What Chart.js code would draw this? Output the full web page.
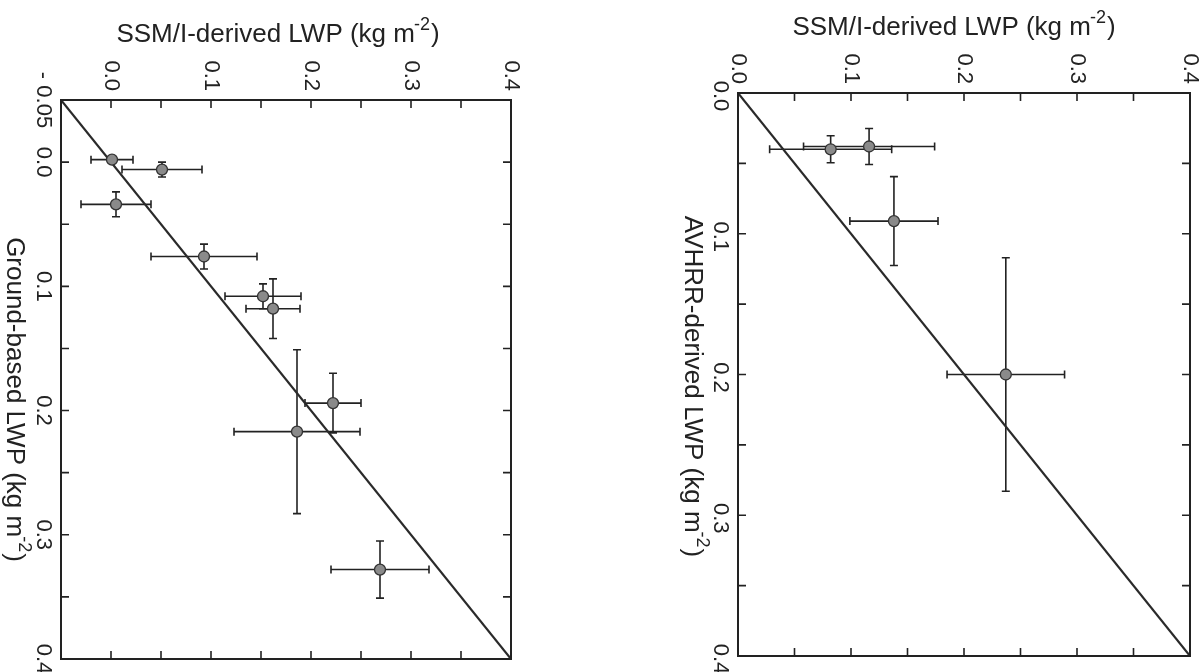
<!DOCTYPE html>
<html><head><meta charset="utf-8">
<script src="https://cdn.jsdelivr.net/npm/chart.js@4"></script>
<style>
html,body{margin:0;padding:0;background:#fff;width:1203px;height:672px;overflow:hidden}
#cl{position:absolute;left:0;top:0}
#cr{position:absolute;left:600px;top:0}
</style></head>
<body>
<canvas id="cl" width="600" height="672"></canvas>
<canvas id="cr" width="603" height="672"></canvas>
<script>
// ---------- Left panel: SSM/I vs ground-based ----------
const leftSSMI   = [0.001, 0.051, 0.005, 0.093, 0.152, 0.162, 0.222, 0.186, 0.269];
const leftGround = [-0.002, 0.006, 0.034, 0.076, 0.108, 0.118, 0.194, 0.217, 0.328];
const leftSSMIErr   = [0.021, 0.040, 0.035, 0.053, 0.038, 0.027, 0.028, 0.063, 0.049];
const leftGroundErr = [0.000, 0.006, 0.010, 0.010, 0.010, 0.024, 0.024, 0.066, 0.023];
const leftMin = -0.05, leftMax = 0.4;
const leftXTickValues = [0.0, 0.1, 0.2, 0.3, 0.4];
const leftXTickLabels = ['0.0', '0.1', '0.2', '0.3', '0.4'];
const leftYTickValues = [-0.05, 0.0, 0.1, 0.2, 0.3, 0.4];
const leftYTickLabels = ['- 0.05', '0.0', '0.1', '0.2', '0.3', '0.4'];
const leftTickMarks = [-0.05, 0.0, 0.05, 0.1, 0.15, 0.2, 0.25, 0.3, 0.35, 0.4];

// ---------- Right panel: SSM/I vs AVHRR ----------
const rightSSMI  = [0.082, 0.116, 0.138, 0.237];
const rightAVHRR = [0.040, 0.038, 0.091, 0.200];
const rightSSMIErr  = [0.054, 0.058, 0.039, 0.052];
const rightAVHRRErr = [0.0096, 0.0128, 0.0316, 0.083];
const rightMin = 0.0, rightMax = 0.4;
const rightXTickValues = [0.0, 0.1, 0.2, 0.3, 0.4];
const rightXTickLabels = ['0.0', '0.1', '0.2', '0.3', '0.4'];
const rightYTickValues = [0.0, 0.1, 0.2, 0.3, 0.4];
const rightYTickLabels = ['0.0', '0.1', '0.2', '0.3', '0.4'];
const rightTickMarks = [0.0, 0.05, 0.1, 0.15, 0.2, 0.25, 0.3, 0.35, 0.4];

const xTitle = 'SSM/I-derived LWP (kg m';
const leftYTitle = 'Ground-based LWP (kg m';
const rightYTitle = 'AVHRR-derived LWP (kg m';

const FONT = '"Liberation Sans", Arial, sans-serif';
const INK = '#222';
const TICK_FONT = 22;
const TITLE_FONT = 26;

function drawRich(ctx, text, x, y, size, rotate) {
  // text + superscript "-2" + ")"
  ctx.save();
  ctx.translate(x, y);
  if (rotate) ctx.rotate(Math.PI / 2);
  ctx.fillStyle = INK;
  ctx.textBaseline = 'alphabetic';
  ctx.textAlign = 'left';
  const sup = Math.round(size * 0.68);
  ctx.font = size + 'px ' + FONT;
  const w1 = ctx.measureText(text).width;
  ctx.font = sup + 'px ' + FONT;
  const w2 = ctx.measureText('-2').width;
  ctx.font = size + 'px ' + FONT;
  const w3 = ctx.measureText(')').width;
  const total = w1 + w2 + w3;
  const sx = -total / 2;
  ctx.fillText(text, sx, 0);
  ctx.font = sup + 'px ' + FONT;
  ctx.fillText('-2', sx + w1 - 1, -size * 0.45);
  ctx.font = size + 'px ' + FONT;
  ctx.fillText(')', sx + w1 + w2, 0);
  ctx.restore();
}

const framePlugin = {
  id: 'frame',
  beforeDatasetsDraw(chart, args, o) {
    const ctx = chart.ctx, xs = chart.scales.x, ys = chart.scales.y;
    ctx.save();
    ctx.strokeStyle = INK;
    ctx.lineWidth = 1.6;
    const cap = 4;
    o.px.forEach((xv, i) => {
      const yv = o.py[i];
      const x = xs.getPixelForValue(xv), y = ys.getPixelForValue(yv);
      const ex = o.ex[i], ey = o.ey[i];
      if (ex > 0) {
        const x0 = xs.getPixelForValue(xv - ex), x1 = xs.getPixelForValue(xv + ex);
        ctx.beginPath();
        ctx.moveTo(x0, y); ctx.lineTo(x1, y);
        ctx.moveTo(x0, y - cap); ctx.lineTo(x0, y + cap);
        ctx.moveTo(x1, y - cap); ctx.lineTo(x1, y + cap);
        ctx.stroke();
      }
      if (ey > 0) {
        const y0 = ys.getPixelForValue(yv - ey), y1 = ys.getPixelForValue(yv + ey);
        ctx.beginPath();
        ctx.moveTo(x, y0); ctx.lineTo(x, y1);
        ctx.moveTo(x - cap, y0); ctx.lineTo(x + cap, y0);
        ctx.moveTo(x - cap, y1); ctx.lineTo(x + cap, y1);
        ctx.stroke();
      }
    });
    ctx.restore();
  },
  afterDatasetsDraw(chart, args, o) {
    const ctx = chart.ctx, xs = chart.scales.x, ys = chart.scales.y;
    const a = chart.chartArea;
    ctx.save();
    ctx.strokeStyle = INK;
    ctx.lineWidth = 2;
    ctx.strokeRect(a.left, a.top, a.right - a.left, a.bottom - a.top);
    ctx.lineWidth = 1.6;
    const tl = 8;
    ctx.beginPath();
    o.marks.forEach(v => {
      const x = xs.getPixelForValue(v);
      ctx.moveTo(x, a.top); ctx.lineTo(x, a.top + tl);
      ctx.moveTo(x, a.bottom); ctx.lineTo(x, a.bottom - tl);
      const y = ys.getPixelForValue(v);
      ctx.moveTo(a.left, y); ctx.lineTo(a.left + tl, y);
      ctx.moveTo(a.right, y); ctx.lineTo(a.right - tl, y);
    });
    ctx.stroke();
    // tick labels (rotated clockwise)
    ctx.fillStyle = INK;
    ctx.font = TICK_FONT + 'px ' + FONT;
    o.xv.forEach((v, i) => {
      const x = xs.getPixelForValue(v);
      ctx.save();
      ctx.translate(x, a.top - 9);
      ctx.rotate(Math.PI / 2);
      ctx.textAlign = 'right';
      ctx.textBaseline = 'middle';
      ctx.fillText(o.xl[i], 0, 0);
      ctx.restore();
    });
    o.yv.forEach((v, i) => {
      const y = ys.getPixelForValue(v);
      ctx.save();
      ctx.translate(a.left - 18, y + o.yLabDy);
      ctx.rotate(Math.PI / 2);
      ctx.textAlign = 'center';
      ctx.textBaseline = 'middle';
      ctx.fillText(o.yl[i], 0, 0);
      ctx.restore();
    });
    // titles
    drawRich(ctx, o.xTitle, (a.left + a.right) / 2 + o.xTitleDx, o.xTitleY, TITLE_FONT, false);
    drawRich(ctx, o.yTitle, o.yTitleX, (a.top + a.bottom) / 2 + o.yTitleDy, TITLE_FONT, true);
    ctx.restore();
  }
};

function makeChart(id, px, py, ex, ey, mn, mx, pad, frameOpts) {
  return new Chart(document.getElementById(id), {
    type: 'scatter',
    data: {
      datasets: [
        {
          type: 'line',
          data: [{x: mn, y: mn}, {x: mx, y: mx}],
          borderColor: '#2a2a2a', borderWidth: 2.2, pointRadius: 0, fill: false, order: 2
        },
        {
          data: px.map((x, i) => ({x: x, y: py[i]})),
          pointRadius: 5.5, pointBackgroundColor: '#8a8a8a', pointBorderColor: '#333',
          pointBorderWidth: 1.3, order: 1
        }
      ]
    },
    options: {
      responsive: false, animation: false, devicePixelRatio: 1,
      layout: {padding: pad},
      scales: {
        x: {type: 'linear', min: mn, max: mx, display: false},
        y: {type: 'linear', min: mn, max: mx, reverse: true, display: false}
      },
      plugins: {
        legend: {display: false}, tooltip: {enabled: false},
        frame: Object.assign({px: px, py: py, ex: ex, ey: ey}, frameOpts)
      }
    },
    plugins: [framePlugin]
  });
}

Chart.defaults.font.family = FONT;

makeChart('cl', leftSSMI, leftGround, leftSSMIErr, leftGroundErr, leftMin, leftMax,
  {left: 61, top: 100, right: 89, bottom: 13},
  {marks: leftTickMarks, xv: leftXTickValues, xl: leftXTickLabels, yv: leftYTickValues, yl: leftYTickLabels,
   yLabDy: 0, xTitle: xTitle, xTitleDx: -8, xTitleY: 42, yTitle: leftYTitle, yTitleX: 7, yTitleDy: 20});

makeChart('cr', rightSSMI, rightAVHRR, rightSSMIErr, rightAVHRRErr, rightMin, rightMax,
  {left: 138, top: 93, right: 13, bottom: 16},
  {marks: rightTickMarks, xv: rightXTickValues, xl: rightXTickLabels, yv: rightYTickValues, yl: rightYTickLabels,
   yLabDy: 3, xTitle: xTitle, xTitleDx: -10, xTitleY: 35, yTitle: rightYTitle, yTitleX: 85, yTitleDy: 12});
</script>
</body></html>
